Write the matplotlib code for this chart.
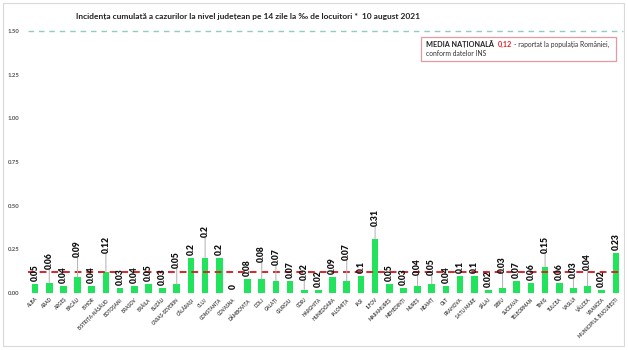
import matplotlib
matplotlib.use("Agg")
import matplotlib.pyplot as plt
from matplotlib.patches import Rectangle

counties = ["ALBA", "ARAD", "ARGEȘ", "BACĂU", "BIHOR", "BISTRIȚA-NĂSĂUD", "BOTOȘANI",
            "BRAȘOV", "BRĂILA", "BUZĂU", "CARAȘ-SEVERIN", "CĂLĂRAȘI", "CLUJ", "CONSTANȚA",
            "COVASNA", "DÂMBOVIȚA", "DOLJ", "GALAȚI", "GIURGIU", "GORJ", "HARGHITA",
            "HUNEDOARA", "IALOMIȚA", "IAȘI", "ILFOV", "MARAMUREȘ", "MEHEDINȚI", "MUREȘ",
            "NEAMȚ", "OLT", "PRAHOVA", "SATU MARE", "SĂLAJ", "SIBIU", "SUCEAVA",
            "TELEORMAN", "TIMIȘ", "TULCEA", "VASLUI", "VÂLCEA", "VRANCEA",
            "MUNICIPIUL BUCUREȘTI"]
values = [0.05, 0.06, 0.04, 0.09, 0.04, 0.12, 0.03, 0.04, 0.05, 0.03, 0.05, 0.2, 0.2, 0.2,
          0.0, 0.08, 0.08, 0.07, 0.07, 0.02, 0.02, 0.09, 0.07, 0.1, 0.31, 0.05, 0.03, 0.04,
          0.05, 0.04, 0.1, 0.1, 0.02, 0.03, 0.07, 0.06, 0.15, 0.06, 0.03, 0.04, 0.02, 0.23]
value_labels = ["0.05", "0.06", "0.04", "0.09", "0.04", "0.12", "0.03", "0.04", "0.05", "0.03",
                "0.05", "0.2", "0.2", "0.2", "0", "0.08", "0.08", "0.07", "0.07", "0.02",
                "0.02", "0.09", "0.07", "0.1", "0.31", "0.05", "0.03", "0.04", "0.05", "0.04",
                "0.1", "0.1", "0.02", "0.03", "0.07", "0.06", "0.15", "0.06", "0.03", "0.04",
                "0.02", "0.23"]
national_avg = 0.12
yticks = [0.0, 0.25, 0.5, 0.75, 1.0, 1.25, 1.5]
ytick_labels = ["0.00", "0.25", "0.50", "0.75", "1.00", "1.25", "1.50"]

# style: label lift above the bar (pixels)
label_lift_px = [3, 14, 3, 20, 3, 19, 3, 3, 3, 3, 16, 3, 21, 3, 4, 3, 17, 16, 3, 10,
                 3, 3, 21, 3, 13, 3, 3, 11, 9, 3, 3, 3, 3, 15, 3, 3, 14, 3, 10, 16, 3, 3]

title = "Incidența cumulată a cazurilor la nivel județean pe 14 zile la ‰ de locuitori *  10 august 2021"

FONT = ["Lato", "DejaVu Sans"]
plt.rcParams["font.family"] = FONT

W, H = 628, 350
fig = plt.figure(figsize=(W / 100, H / 100), dpi=100)
fig.patch.set_facecolor("white")

# outer light frame
fig.add_artist(Rectangle((3 / W, 4 / H), (621 / W), (343 / H), transform=fig.transFigure,
                         fill=False, edgecolor="#d9d9d9", linewidth=0.8))

x0, x1 = 28, 623
y0, y1 = 293, 31
ax = fig.add_axes([x0 / W, (H - y0) / H, (x1 - x0) / W, (y0 - y1) / H])
ax.set_xlim(-0.5, len(counties) - 0.5)
ax.set_ylim(0, 1.5)
for s in ax.spines.values():
    s.set_visible(False)

xs = list(range(len(counties)))
ax.bar(xs, values, width=0.48, color="#21e35c", zorder=2)

ax.axhline(1.5, color="#8fcfb8", linestyle=(0, (4, 3.5)), linewidth=1.0, clip_on=False, zorder=1)
ax.axhline(national_avg, color="#d7262b", linestyle=(0, (3.5, 2.5)), linewidth=1.4, zorder=3)

ax.set_yticks(yticks)
ax.set_yticklabels(ytick_labels, fontsize=4.3, fontweight="bold", color="#555555")
ax.tick_params(axis="y", length=0, pad=6)

ax.set_xticks(xs)
ax.set_xticklabels(counties, fontsize=3.3, fontweight="bold", color="#444444",
                   rotation=45, ha="right", rotation_mode="anchor")
ax.tick_params(axis="x", length=0, pad=3)

for x, v, lab, lift in zip(xs, values, value_labels, label_lift_px):
    ax.annotate(lab, xy=(x, v), xytext=(0, lift), textcoords="offset pixels",
                rotation=90, ha="center", va="bottom", fontsize=6.2, fontweight="heavy",
                color="#111111", zorder=5)
    if lift > 5:
        ax.annotate("", xy=(x, v), xytext=(0, lift), textcoords="offset pixels",
                    arrowprops=dict(arrowstyle="-", color="#b0b0b0", lw=0.7,
                                    shrinkA=0, shrinkB=0), zorder=4)

fig.text(248 / W, 1 - 17 / H, title, ha="center", va="center", fontsize=6.0,
         fontweight="bold", color="#222222")

# national average box
bx0, bx1, by0, by1 = 421, 616, 37, 61
fig.add_artist(Rectangle((bx0 / W, 1 - by1 / H), (bx1 - bx0) / W, (by1 - by0) / H,
                         transform=fig.transFigure, facecolor="white",
                         edgecolor="#e39aa5", linewidth=0.9))
t1 = fig.text(426 / W, 1 - 44 / H, "MEDIA NAȚIONALĂ", fontsize=5.2, fontweight="bold",
              color="#222222", va="center", ha="left")
fig.canvas.draw()
bb = t1.get_window_extent()
t2 = fig.text((bb.x1 + 4) / W, 1 - 44 / H, "0,12", fontsize=5.2, fontweight="bold",
              color="#e0242b", va="center", ha="left")
fig.canvas.draw()
bb2 = t2.get_window_extent()
fig.text((bb2.x1 + 2) / W, 1 - 44 / H, "- raportat la populația României,", fontsize=4.9,
         color="#333333", va="center", ha="left")
fig.text(426 / W, 1 - 54 / H, "conform datelor INS", fontsize=4.9, color="#333333",
         va="center", ha="left")

fig.savefig("out.png", dpi=100)
